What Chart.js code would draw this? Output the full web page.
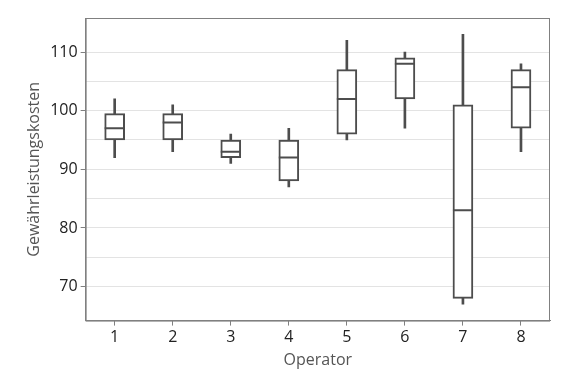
<!DOCTYPE html>
<html lang="de">
<head>
    <meta charset="UTF-8">
    <title>Gewährleistungskosten je Operator</title>
    <script src="https://cdn.jsdelivr.net/npm/chart.js"></script>
    <style>
        html, body { margin: 0; padding: 0; background: #fff; }
        #wrap { width: 576px; height: 384px; }
    </style>
</head>
<body>
    <div id="wrap">
        <canvas id="boxChart"></canvas>
    </div>

    <script>
        // Werte
        const operators = ['1', '2', '3', '4', '5', '6', '7', '8'];
        const whiskerLow  = [92, 93, 91, 87, 95, 97, 67, 93];
        const q1          = [95, 95, 92, 88, 96, 102, 68, 97];
        const median      = [97, 98, 93, 92, 102, 108, 83, 104];
        const q3          = [99.5, 99.5, 95, 95, 107, 109, 101, 107];
        const whiskerHigh = [102, 101, 96, 97, 112, 110, 113, 108];

        const lineColor = '#4d4d4d';
        const axisColor = '#808080';

        // Rahmen oben/rechts um den Plotbereich
        const frame = {
            id: 'frame',
            afterDraw(chart) {
                const { ctx, chartArea: a } = chart;
                ctx.save();
                ctx.strokeStyle = axisColor;
                ctx.lineWidth = 1;
                ctx.strokeRect(a.left + 0.5, a.top + 0.5, a.right - a.left - 1, a.bottom - a.top);
                ctx.restore();
            }
        };

        const ctx = document.getElementById('boxChart').getContext('2d');
        new Chart(ctx, {
            data: {
                labels: operators,
                datasets: [
                    {
                        type: 'line',
                        label: 'Median',
                        data: median,
                        showLine: false,
                        pointStyle: 'line',
                        pointRadius: 10,
                        pointHoverRadius: 10,
                        borderColor: lineColor,
                        borderWidth: 2,
                        order: 0
                    },
                    {
                        type: 'bar',
                        label: 'Box',
                        data: q1.map((v, i) => [v, q3[i]]),
                        backgroundColor: '#ffffff',
                        borderColor: lineColor,
                        borderWidth: 2,
                        borderSkipped: false,
                        barThickness: 20,
                        grouped: false,
                        order: 1
                    },
                    {
                        type: 'bar',
                        label: 'Whisker',
                        data: whiskerLow.map((v, i) => [v, whiskerHigh[i]]),
                        backgroundColor: lineColor,
                        borderWidth: 0,
                        barThickness: 2,
                        grouped: false,
                        order: 2
                    }
                ]
            },
            options: {
                responsive: true,
                maintainAspectRatio: false,
                animation: false,
                layout: { padding: { top: 18, right: 26, left: 21, bottom: 10 } },
                plugins: {
                    legend: { display: false },
                    tooltip: { enabled: false }
                },
                scales: {
                    x: {
                        type: 'category',
                        offset: true,
                        grid: {
                            display: true,
                            offset: false,
                            drawOnChartArea: false,
                            drawTicks: true,
                            tickLength: 5,
                            tickColor: axisColor
                        },
                        border: { color: axisColor },
                        ticks: {
                            color: '#222',
                            font: { family: 'Open Sans', size: 16 },
                            padding: 2
                        },
                        title: {
                            display: true,
                            text: 'Operator',
                            color: '#555',
                            font: { family: 'Open Sans', size: 16 },
                            padding: { top: 2 }
                        }
                    },
                    y: {
                        min: 64.2,
                        max: 115.8,
                        afterBuildTicks: axis => {
                            axis.ticks = axis.ticks.filter(t => t.value % 5 === 0);
                        },
                        grid: {
                            color: '#e3e3e3',
                            tickLength: 5,
                            tickColor: c => (c.tick && c.tick.value % 10 === 0) ? axisColor : 'rgba(0,0,0,0)'
                        },
                        border: { color: axisColor },
                        ticks: {
                            stepSize: 5,
                            color: '#222',
                            font: { family: 'Open Sans', size: 16 },
                            padding: 3,
                            callback: v => (v % 10 === 0 ? v : '')
                        },
                        title: {
                            display: true,
                            text: 'Gewährleistungskosten',
                            color: '#555',
                            font: { family: 'Open Sans', size: 16 },
                            padding: { bottom: 3 }
                        }
                    }
                }
            },
            plugins: [frame]
        });
    </script>
</body>
</html>
